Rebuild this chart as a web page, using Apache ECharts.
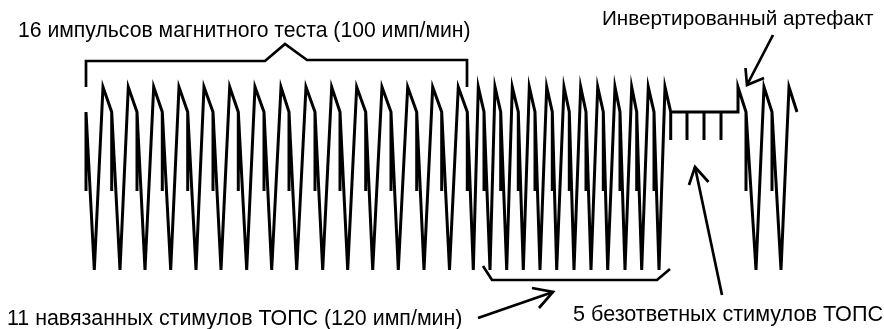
<!DOCTYPE html>
<html><head><meta charset="utf-8">
<script src="https://cdn.jsdelivr.net/npm/echarts@6/dist/echarts.min.js"></script>
<style>html,body{margin:0;padding:0;background:#fff}#c{width:884px;height:329px}</style>
</head><body><div id="c"></div>
<script>
// Time positions (arbitrary time units, first spike = 0)
const magnetSpikes  = [0, 25.7, 51, 76.3, 101.7, 127, 152.3, 178, 203, 229, 254, 279.7, 305, 330.7, 355.7, 381.3];
const magnetTroughs = [8.3, 34, 59, 84.7, 110, 135, 160.7, 185.7, 210.7, 236.7, 261.7, 286.7, 312.3, 338, 363.5, 387.3];
const magnetPeaks   = [17, 42.3, 67.7, 93, 118, 143.7, 169, 195, 220, 245.7, 270.7, 296, 321.7, 346.7, 372.3, 392.3];
const topsSpikes    = [398, 414.7, 432.3, 449, 466.3, 483.3, 500, 517.3, 534, 550.7, 568];
const topsTroughs   = [404, 420.7, 437.3, 454, 470.7, 488, 505, 521.7, 539, 555.7, 573];
const topsPeaks     = [409, 426.3, 443.3, 460.7, 478, 494.7, 511.7, 529, 545.7, 562.3, 579];
const unrespSpikes  = [584.7, 601, 618, 635];
const artifactTime  = [652];
const lateSpikes    = [660, 686];
const lateTroughs   = [670, 695];
const latePeaks     = [678, 703];
const traceEnd      = [711];
// Amplitude levels (arbitrary units)
const levelNames  = ['trough', 'spikeLow', 'unrespLow', 'notch', 'peak'];
const levelValues = [0, 79, 130, 158, 183];
const L = {}; levelNames.forEach((n, i) => L[n] = levelValues[i]);

// Labels
const labelTop = '16 импульсов магнитного теста (100 имп/мин)';
const labelArtifact = 'Инвертированный артефакт';
const labelTops = '11 навязанных стимулов ТОПС (120 имп/мин)';
const labelUnresp = '5 безответных стимулов ТОПС';

const pts = [];
function beats(spikes, troughs, peaks) {
  spikes.forEach((s, i) => {
    pts.push([s, L.notch], [s, L.spikeLow], [s, L.notch]);
    pts.push([troughs[i], L.trough], [peaks[i], L.peak]);
  });
}
beats(magnetSpikes, magnetTroughs, magnetPeaks);
beats(topsSpikes, topsTroughs, topsPeaks);
unrespSpikes.forEach(u => pts.push([u, L.notch], [u, L.unrespLow], [u, L.notch]));
pts.push([artifactTime[0], L.notch], [artifactTime[0], L.peak]);
beats(lateSpikes, lateTroughs, latePeaks);
pts.push([traceEnd[0], L.notch]);

const chart = echarts.init(document.getElementById('c'), null, {renderer: 'canvas'});
const FONT = '"Liberation Sans", Arial, sans-serif';
const lw = 2.7;
function poly(points) {
  return {type: 'polyline', shape: {points}, style: {stroke: '#000', lineWidth: lw, fill: null, lineJoin: 'miter'}};
}
function txt(text, x, y, size) {
  return {type: 'text', x, y, style: {text, fontSize: size, fontFamily: FONT, fill: '#000', verticalAlign: 'top'}};
}
chart.setOption({
  animation: false,
  backgroundColor: '#fff',
  grid: {left: 86, top: 87, width: 711, height: 183},
  xAxis: {type: 'value', min: 0, max: 711, show: false},
  yAxis: {type: 'value', min: 0, max: 183, show: false},
  series: [{
    type: 'line', data: pts, showSymbol: false, clip: false,
    lineStyle: {color: '#000', width: 3, join: 'miter'}
  }],
  graphic: [
    poly([[86, 87], [86, 61], [265, 61], [285, 44], [307, 60], [467, 60], [467, 87]]),
    poly([[483, 266], [492, 280], [657, 280], [670, 269]]),
    poly([[773, 35], [747, 85]]), poly([[745.5, 68], [747, 85], [764, 78]]),
    poly([[722, 295], [695, 167]]), poly([[689, 185], [695, 167], [708.5, 182]]),
    poly([[478, 318], [553, 292]]), poly([[532, 288], [553, 292], [539, 308]]),
    txt(labelTop, 18, 20.5, 21.2),
    txt(labelArtifact, 602, 9, 20.7),
    txt(labelTops, 7, 308.7, 21.4),
    txt(labelUnresp, 573, 304.4, 21.6)
  ]
});
</script></body></html>
